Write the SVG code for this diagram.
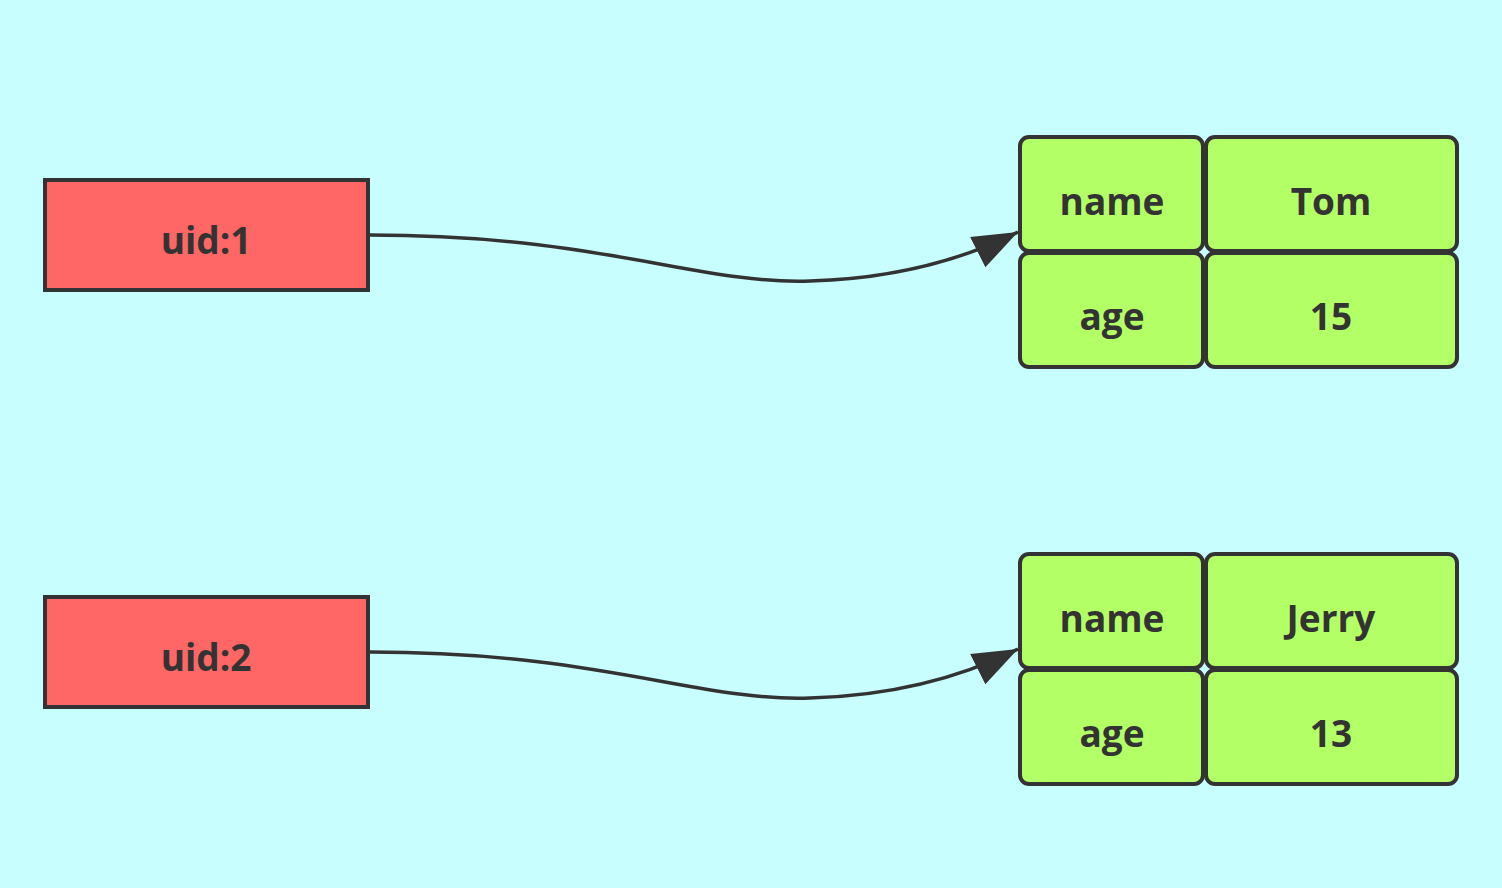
<svg xmlns="http://www.w3.org/2000/svg" width="1502" height="888" viewBox="0 0 1502 888">
<style>
.key{fill:#FF6666;stroke:#333;stroke-width:4}
.cell{fill:#B3FF66;stroke:#333;stroke-width:4}
text{font-family:"Open Sans","Noto Sans","Liberation Sans",sans-serif;font-weight:bold;font-size:37px;fill:#333;text-anchor:middle}
.edge{fill:none;stroke:#333;stroke-width:3.5}
</style>
<defs>
<marker id="arr" markerUnits="userSpaceOnUse" markerWidth="50" markerHeight="40" viewBox="0 0 50 40" refX="45" refY="17" orient="auto">
<path d="M0,0 L45,17 L0,34 Z" fill="#333"/>
</marker>
</defs>
<rect width="1502" height="888" fill="#C8FFFE"/>
<g id="connectors">
<path class="edge" d="M370,235 C600,235 700,285 810,281 C880,279 950,266 1018,232" marker-end="url(#arr)"/>
<path class="edge" d="M370,652 C600,652 700,702 810,698 C880,696 950,683 1018,649" marker-end="url(#arr)"/>
</g>
<g id="uid1">
<rect class="key" x="45" y="180" width="323" height="110"/>
<text x="206" y="254">uid:1</text>
</g>
<g id="uid2">
<rect class="key" x="45" y="597" width="323" height="110"/>
<text x="206" y="671">uid:2</text>
</g>
<g id="hash1">
<rect class="cell" x="1020" y="137" width="183" height="114" rx="9"/>
<rect class="cell" x="1206" y="137" width="251" height="114" rx="9"/>
<rect class="cell" x="1020" y="253" width="183" height="114" rx="9"/>
<rect class="cell" x="1206" y="253" width="251" height="114" rx="9"/>
<text x="1112" y="215">name</text>
<text x="1331" y="215">Tom</text>
<text x="1112" y="330">age</text>
<text x="1331" y="330">15</text>
</g>
<g id="hash2">
<rect class="cell" x="1020" y="554" width="183" height="114" rx="9"/>
<rect class="cell" x="1206" y="554" width="251" height="114" rx="9"/>
<rect class="cell" x="1020" y="670" width="183" height="114" rx="9"/>
<rect class="cell" x="1206" y="670" width="251" height="114" rx="9"/>
<text x="1112" y="632">name</text>
<text x="1331" y="632">Jerry</text>
<text x="1112" y="747">age</text>
<text x="1331" y="747">13</text>
</g>
</svg>
